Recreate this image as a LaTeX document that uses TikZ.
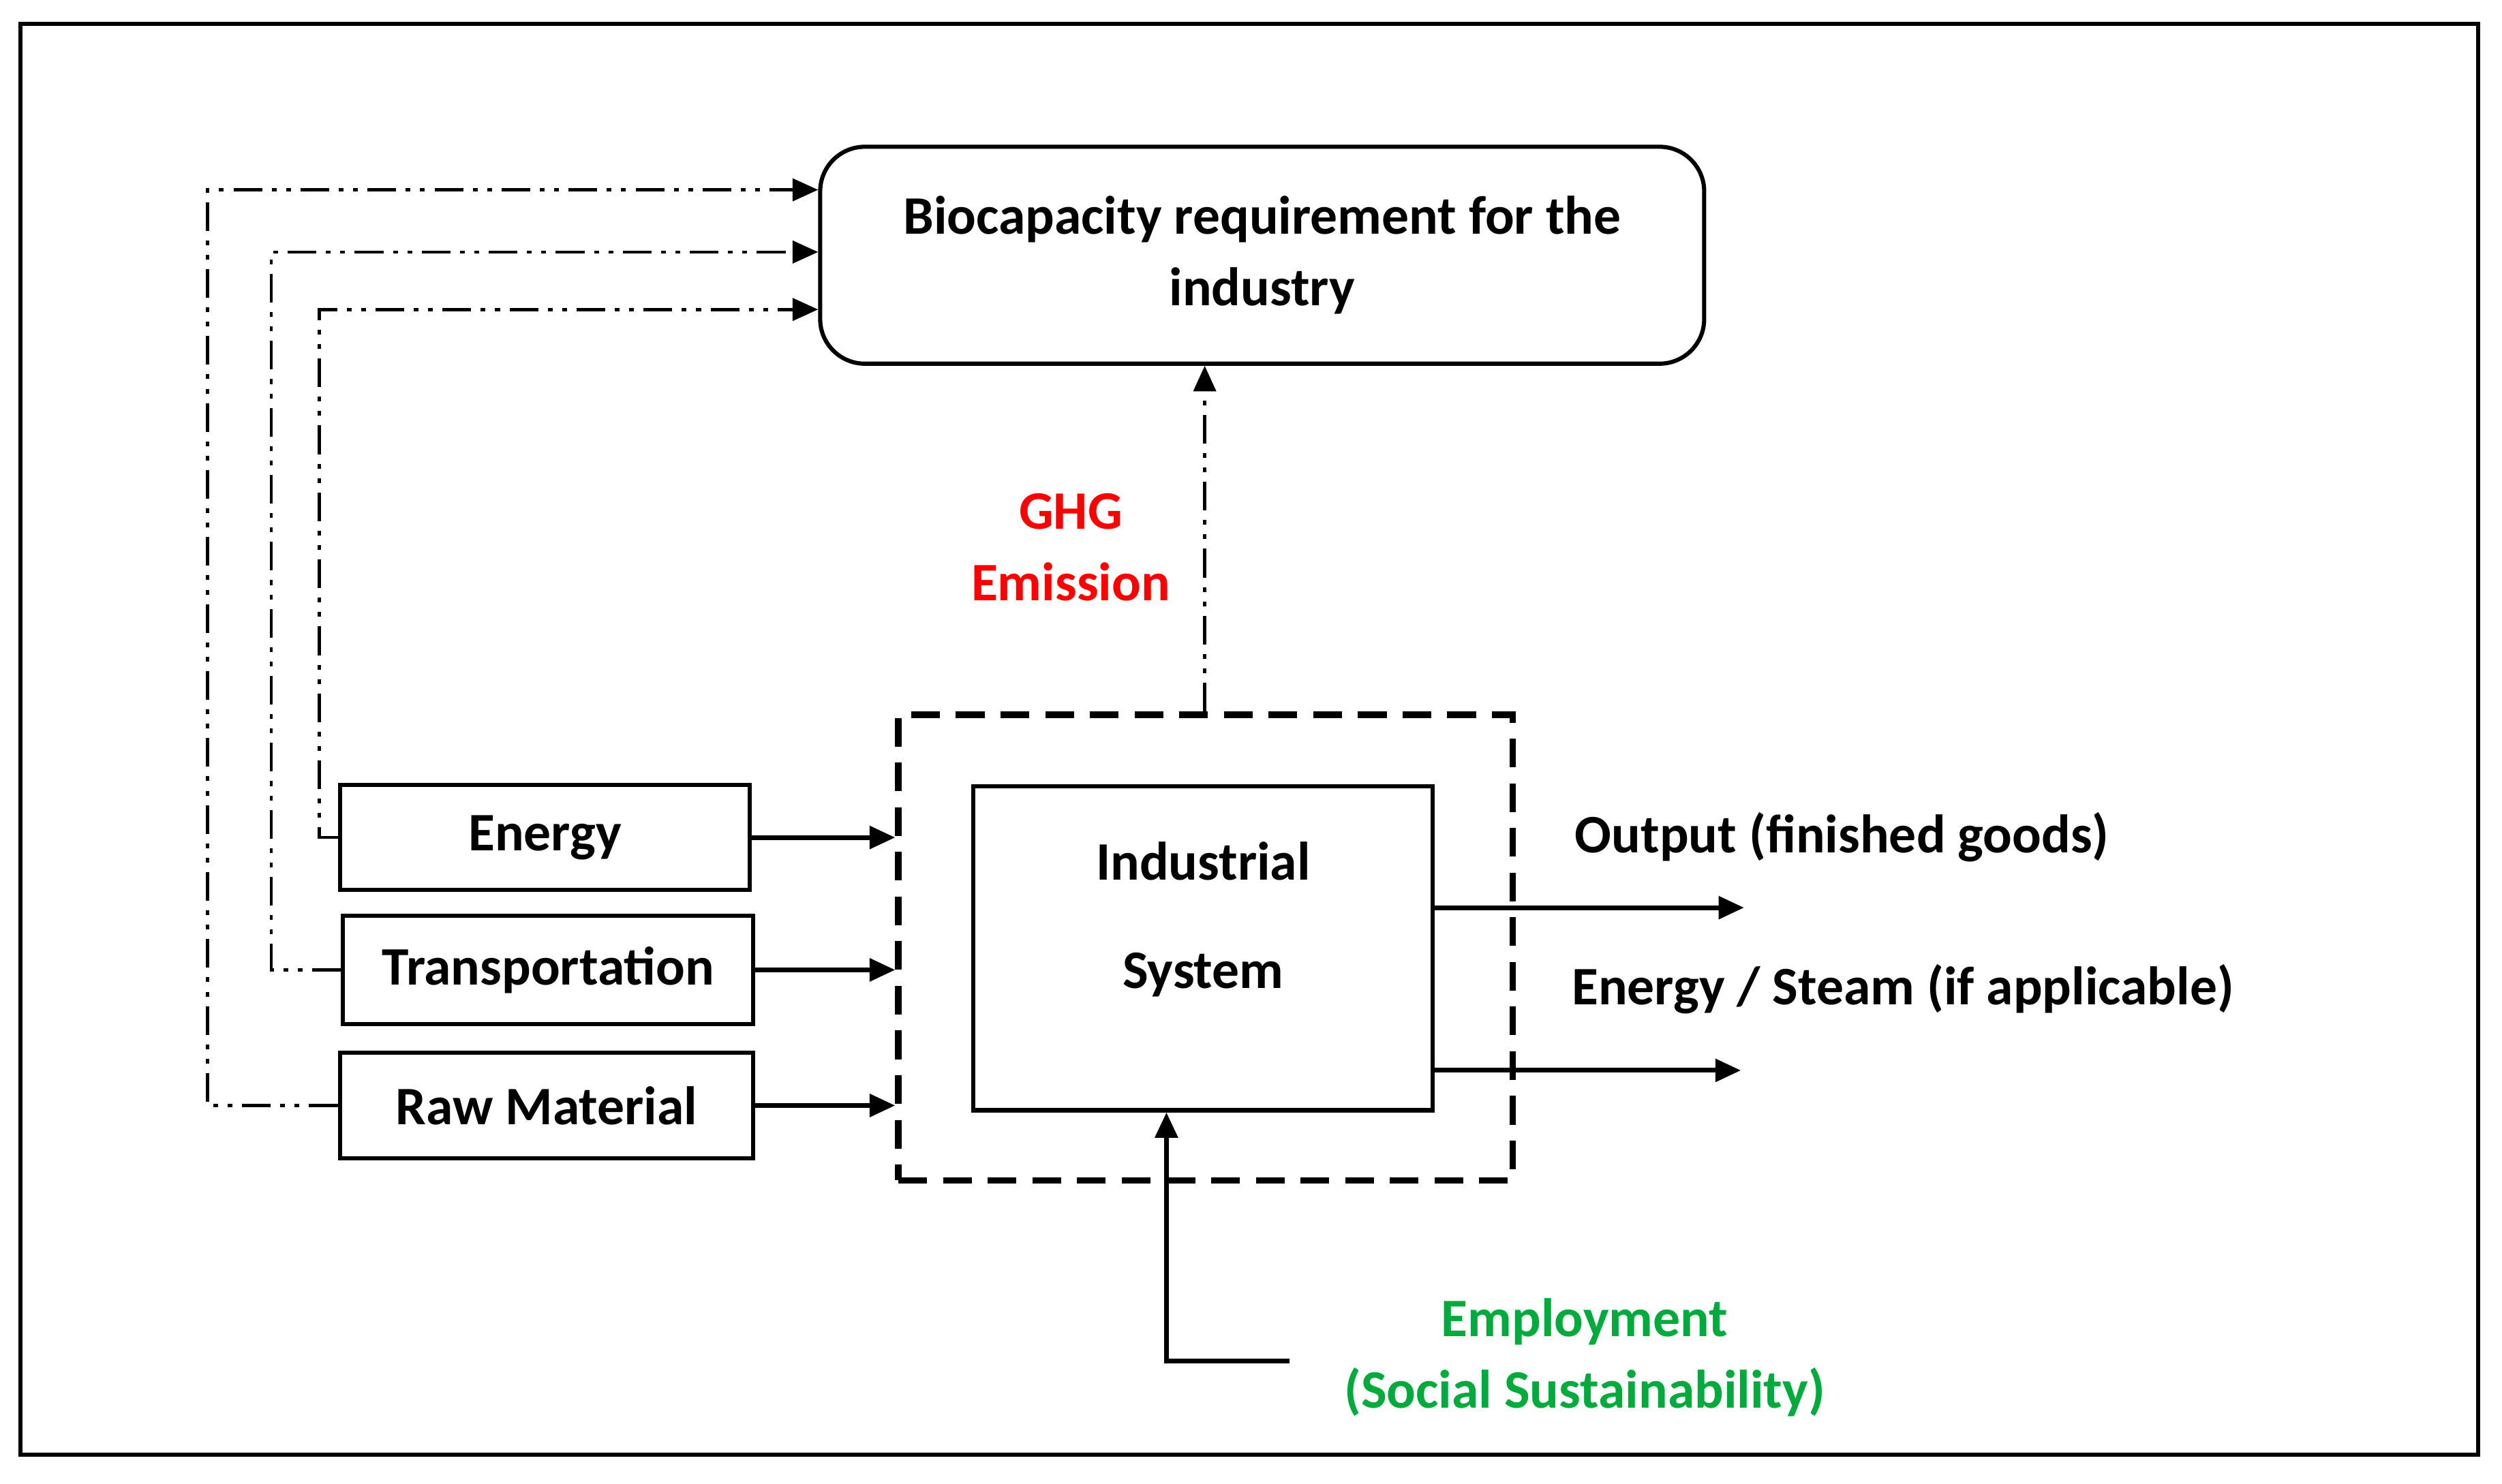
\documentclass[tikz,border=0pt]{standalone}
\usepackage{fontspec}
\setmainfont{Carlito}
\usetikzlibrary{arrows.meta}
\definecolor{ghgred}{RGB}{255,0,0}
\definecolor{empgreen}{RGB}{0,170,60}
\begin{document}
\begin{tikzpicture}[x=0.5pt,y=0.5pt,yscale=-1,
  lbl/.style={font=\fontsize{17}{22.5}\selectfont\bfseries,align=center},
  box/.style={draw,line width=1.3pt,lbl,inner sep=0pt},
  arr/.style={line width=1.5pt,-{Triangle[length=8pt,width=7pt]}},
  dd/.style={line width=1pt,dash pattern=on 9pt off 3pt on 1.5pt off 3pt on 1.5pt off 3pt,-{Triangle[length=8pt,width=7pt]}}]
\useasboundingbox (0,0) rectangle (1568,930);
\draw[line width=1.3pt] (13,15) rectangle (1553,912);
% boxes
\node[box,rounded corners=14pt,minimum width=277pt,minimum height=68pt] (bio) at (791,160) {Biocapacity requirement for the\\industry};
\node[draw,line width=2pt,dash pattern=on 9pt off 5pt,minimum width=192.5pt,minimum height=146pt,inner sep=0pt] (sys) at (755.5,594) {};
\node[box,minimum width=144pt,minimum height=101.5pt] (ind) at (754,594.5) {};
\node[lbl] (indtxt) at (ind.center) [yshift=9pt] {Industrial\\[11.5pt]System};
\node[box,minimum width=128.5pt,minimum height=33pt] (en) at (341.5,525) {Energy};
\node[box,minimum width=128.5pt,minimum height=34pt] (tr) at (343.5,608) {Transportation};
\node[box,minimum width=129.5pt,minimum height=33pt] (raw) at (342.5,693) {Raw Material};
% labels
\node[lbl,text=ghgred] (ghg) at (671,343) {GHG\\Emission};
\node[lbl,anchor=west] (out) at (980,525) {Output (finished goods)};
\node[lbl,anchor=west] (es) at (978,620) {Energy / Steam (if applicable)};
\node[lbl,text=empgreen] (emp) at (993,851) {Employment\\(Social Sustainability)};
\coordinate (o1) at (1093,569);
\coordinate (o2) at (1091,671);
\coordinate (e1) at (808,853);
% inputs
\draw[arr] (en.east) -- (sys.west |- en.east);
\draw[arr] (tr.east) -- (sys.west |- tr.east);
\draw[arr] (raw.east) -- (sys.west |- raw.east);
% outputs
\draw[arr] (ind.east |- o1) -- (o1);
\draw[arr] (ind.east |- o2) -- (o2);
\draw[arr] (e1) -- (731,853) -- (ind.south -| 731,0);
% dash-dot feedback
\draw[dd] (en.west) -- (200,525) -- (200,194) -- (bio.west |- 0,194);
\draw[dd] (tr.west) -- (170,608) -- (170,158) -- (bio.west |- 0,158);
\draw[dd] (raw.west) -- (130,693) -- (130,119) -- (bio.west |- 0,119);
\draw[dd] (sys.north -| 755,0) -- (bio.south -| 755,0);
\end{tikzpicture}
\end{document}
